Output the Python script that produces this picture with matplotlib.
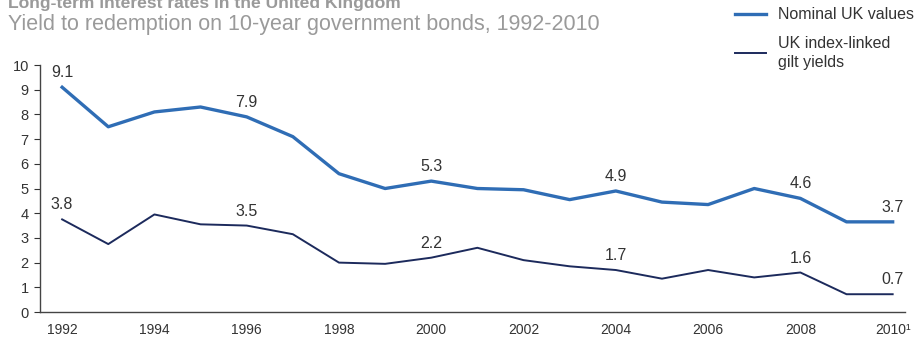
import matplotlib
matplotlib.use("Agg")
import matplotlib.pyplot as plt

plt.rcParams['font.family'] = ['Liberation Sans', 'DejaVu Sans']

years = list(range(1992, 2011))
nominal = [9.1, 7.5, 8.1, 8.3, 7.9, 7.1, 5.6, 5.0, 5.3, 5.0, 4.95, 4.55,
           4.9, 4.45, 4.35, 5.0, 4.6, 3.65, 3.65]
index_linked = [3.75, 2.75, 3.95, 3.55, 3.5, 3.15, 2.0, 1.95, 2.2, 2.6, 2.1,
                1.85, 1.7, 1.35, 1.7, 1.4, 1.6, 0.72, 0.72]

label_years = [1992, 1996, 2000, 2004, 2008, 2010]
nominal_labels = ["9.1", "7.9", "5.3", "4.9", "4.6", "3.7"]
index_labels = ["3.8", "3.5", "2.2", "1.7", "1.6", "0.7"]

xtick_years = [1992, 1994, 1996, 1998, 2000, 2002, 2004, 2006, 2008, 2010]
xtick_labels = ["1992", "1994", "1996", "1998", "2000", "2002", "2004",
                "2006", "2008", "2010\u00b9"]

c_nom = "#2f6db5"
c_idx = "#1c2a5c"
c_txt = "#333333"

fig = plt.figure(figsize=(9.15, 3.44), dpi=100)
ax = fig.add_axes([0.0437, 0.093, 0.945, 0.718])

ax.plot(years, nominal, color=c_nom, lw=2.4, label="Nominal UK values")
ax.plot(years, index_linked, color=c_idx, lw=1.4, label="UK index-linked\ngilt yields")

for y, s in zip(label_years, nominal_labels):
    v = nominal[years.index(y)]
    ax.annotate(s, (y, v), xytext=(0, 5), textcoords="offset points",
                ha="center", va="bottom", fontsize=11.5, color=c_txt)
for y, s in zip(label_years, index_labels):
    v = index_linked[years.index(y)]
    ax.annotate(s, (y, v), xytext=(0, 5), textcoords="offset points",
                ha="center", va="bottom", fontsize=11.5, color=c_txt)

ax.set_xlim(1991.52, 2010.26)
ax.set_ylim(0, 10)
ax.set_yticks(range(0, 11))
ax.set_xticks(xtick_years)
ax.set_xticklabels(xtick_labels)
ax.tick_params(axis="x", length=0, pad=8, labelsize=10, colors=c_txt)
ax.tick_params(axis="y", length=4, width=0.8, pad=4, labelsize=10.5, colors=c_txt)
for s in ["top", "right"]:
    ax.spines[s].set_visible(False)
for s in ["left", "bottom"]:
    ax.spines[s].set_color("#444444")
    ax.spines[s].set_linewidth(1.0)

fig.text(0.009, 0.99, "Long-term interest rates in the United Kingdom",
         fontsize=12.6, fontweight="bold", color="#9a9a9a", va="center")
fig.text(0.009, 0.93, "Yield to redemption on 10-year government bonds, 1992-2010",
         fontsize=15.5, color="#9a9a9a", va="center")

leg = fig.legend(loc="upper left", bbox_to_anchor=(0.793, 1.007), frameon=False,
                 fontsize=11.5, handlelength=1.95, handletextpad=0.7, labelspacing=0.85,
                 borderpad=0.3, borderaxespad=0.3, labelcolor=c_txt)
for t in leg.get_texts():
    t.set_linespacing(1.35)

fig.savefig("out.png", dpi=100)
